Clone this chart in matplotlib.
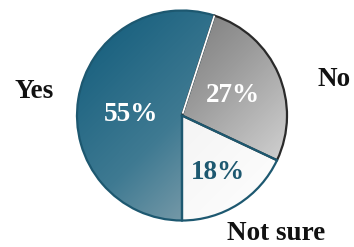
import numpy as np
import matplotlib
matplotlib.use("Agg")
import matplotlib.pyplot as plt
from matplotlib.colors import LinearSegmentedColormap

categories = ["Yes", "No", "Not sure"]
values = [55, 27, 18]
pct_labels = ["55%", "27%", "18%"]

W, H = 354, 247
fig = plt.figure(figsize=(W / 100, H / 100), dpi=100)
ax = fig.add_axes([0, 0, 1, 1])

cx, cy, r = 182, 131.5, 105
edge = "#1d5870"
wedges, _ = ax.pie(values, startangle=270, counterclock=False, center=(cx, cy),
                   radius=r, frame=True,
                   wedgeprops=dict(facecolor="none", edgecolor=edge, linewidth=1.6))
ax.set_xlim(0, W)
ax.set_ylim(0, H)
ax.set_aspect("equal")
ax.axis("off")

wedges[1].set_edgecolor("#2a2a2a")

grads = [
    ["#0f5a7a", "#3f7a92", "#a9b6bc"],
    ["#5a5a5a", "#9a9a9a", "#e6e6e6"],
    ["#e4e4e4", "#f4f4f4", "#ffffff"],
]
yy, xx = np.mgrid[0:1:200j, 0:1:200j]
g = (xx + yy) / 2.0
for w, cols in zip(wedges, grads):
    cmap = LinearSegmentedColormap.from_list("g", cols)
    im = ax.imshow(g, cmap=cmap, extent=(cx - r, cx + r, cy - r, cy + r),
                   origin="upper", zorder=0.5, interpolation="bilinear")
    im.set_clip_path(w)
    w.set_zorder(2)

# white seam between Yes and No
a = np.deg2rad(72)
ax.plot([cx + 2 * np.cos(a), cx + r * np.cos(a)], [cy + 2 * np.sin(a), cy + r * np.sin(a)],
        color="white", lw=1.3, zorder=2.5, solid_capstyle="butt")

serif = ["Liberation Serif", "DejaVu Serif"]
fs = 19.5
ax.text(cx - 51, cy + 1, pct_labels[0], color="white", fontsize=fs,
        fontweight="bold", family=serif, ha="center", va="center", zorder=3)
ax.text(cx + 51, cy + 20.5, pct_labels[1], color="white", fontsize=fs,
        fontweight="bold", family=serif, ha="center", va="center", zorder=3)
ax.text(cx + 36, cy - 57, pct_labels[2], color=edge, fontsize=fs,
        fontweight="bold", family=serif, ha="center", va="center", zorder=3)

ax.text(34, H - 91, categories[0], color="#111111", fontsize=fs,
        fontweight="bold", family=serif, ha="center", va="center")
ax.text(334, H - 79, categories[1], color="#111111", fontsize=fs,
        fontweight="bold", family=serif, ha="center", va="center")
ax.text(276, H - 234, categories[2], color="#111111", fontsize=fs,
        fontweight="bold", family=serif, ha="center", va="center")

fig.savefig("out.png", dpi=100)
